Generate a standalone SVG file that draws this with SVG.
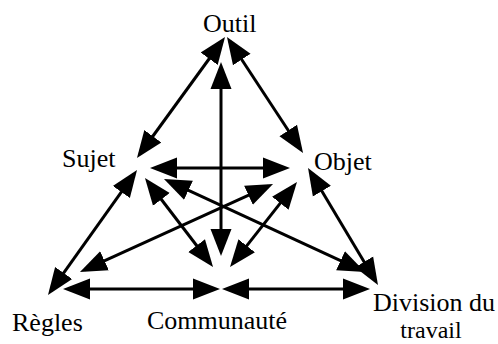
<svg xmlns="http://www.w3.org/2000/svg" width="498" height="344" viewBox="0 0 498 344">
<style>
.t{font-family:"Liberation Serif","Times New Roman",serif;font-size:26px;fill:#000}
.s{font-size:24px}
.c line{stroke:#000;stroke-width:3;fill:none;marker-start:url(#ah);marker-end:url(#ah)}
</style>
<defs>
<marker id="ah" markerUnits="userSpaceOnUse" viewBox="0 -12 30 24" markerWidth="30" markerHeight="24" refX="22" refY="0" orient="auto-start-reverse">
<path d="M0,-10.5 L27,0 L0,10.5 z" fill="#000"/>
</marker>
</defs>
<rect width="498" height="344" fill="#fff"/>
<g id="connectors" class="c">
<line x1="139.9" y1="154" x2="222.1" y2="41"/>
<line x1="300.3" y1="148.8" x2="229.7" y2="41.2"/>
<line x1="221" y1="67" x2="221" y2="251"/>
<line x1="155" y1="168" x2="285" y2="168"/>
<line x1="134.1" y1="174.1" x2="50.9" y2="290.9"/>
<line x1="148" y1="182" x2="210" y2="263"/>
<line x1="168.5" y1="181.1" x2="360.5" y2="269.9"/>
<line x1="268.5" y1="186.1" x2="84.5" y2="269.9"/>
<line x1="293.9" y1="185.9" x2="233.1" y2="263.1"/>
<line x1="310.6" y1="172.3" x2="375.4" y2="280.7"/>
<line x1="68" y1="289" x2="215" y2="289"/>
<line x1="227" y1="289" x2="365" y2="289"/>
</g>
<g id="outil"><text class="t" x="203" y="32">Outil</text></g>
<g id="sujet"><text class="t" x="62" y="167">Sujet</text></g>
<g id="objet"><text class="t" x="314" y="170">Objet</text></g>
<g id="regles"><text class="t" x="12" y="331">Règles</text></g>
<g id="communaute"><text class="t" x="147" y="329">Communauté</text></g>
<g id="division"><text class="t" x="434" y="311" text-anchor="middle">Division du</text><text class="t s" x="431" y="338" text-anchor="middle">travail</text></g>
</svg>
